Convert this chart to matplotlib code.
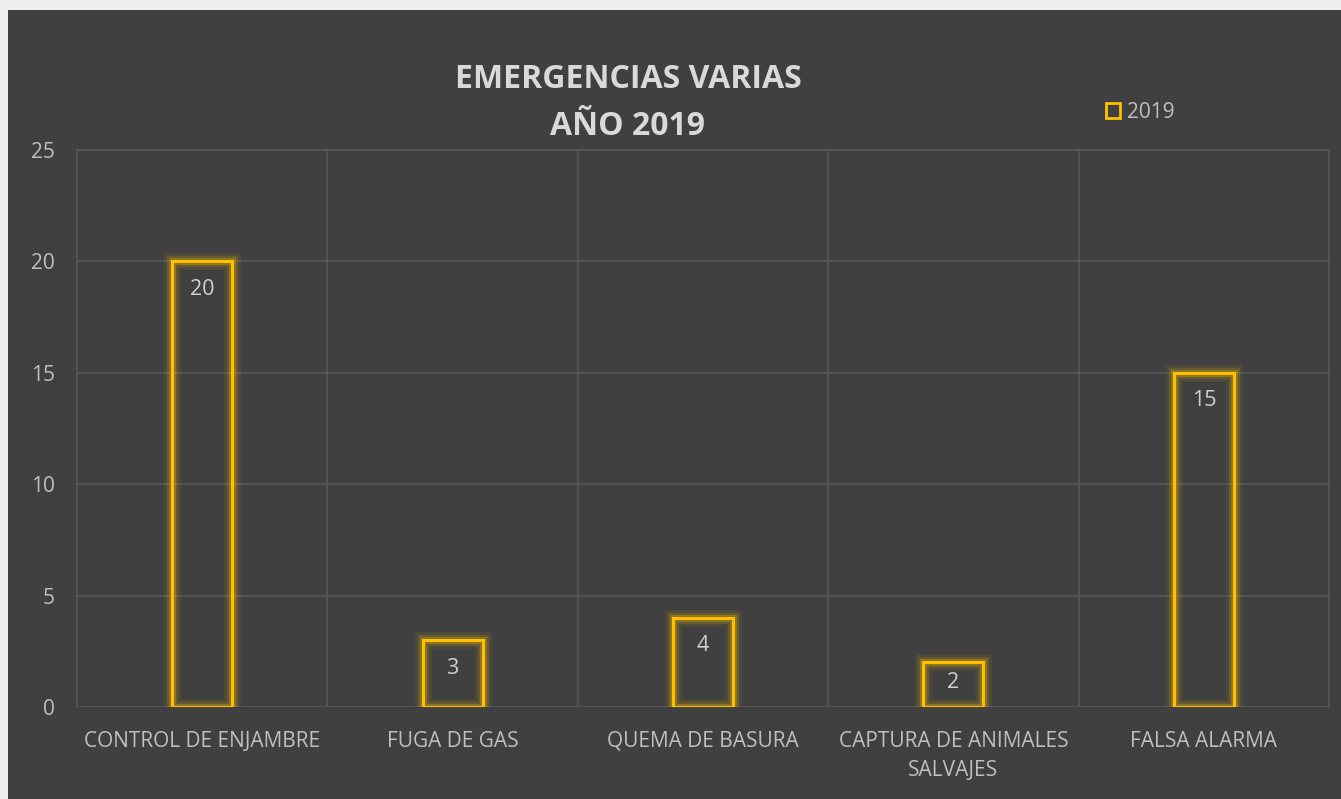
import matplotlib
matplotlib.use("Agg")
import matplotlib.pyplot as plt
import matplotlib.patheffects as pe
from matplotlib.patches import Rectangle

categories = ["CONTROL DE ENJAMBRE", "FUGA DE GAS", "QUEMA DE BASURA",
              "CAPTURA DE ANIMALES\nSALVAJES", "FALSA ALARMA"]
values = [20, 3, 4, 2, 15]
series_name = "2019"
title = "EMERGENCIAS VARIAS\nAÑO 2019"
yticks = [0, 5, 10, 15, 20, 25]

BG = "#404040"
GRID = "#585858"
GOLD = "#FFC000"
TXT = "#BFBFBF"
FONT = ["Open Sans", "DejaVu Sans"]
plt.rcParams["font.family"] = FONT

W, H = 1341, 799
fig = plt.figure(figsize=(W / 100, H / 100), dpi=100, facecolor="#EDEDED")
fig.patches.append(Rectangle((8 / W, 0), 1 - 8 / W, 1 - 10 / H, transform=fig.transFigure,
                             facecolor=BG, edgecolor="none", zorder=-10))

ax = fig.add_axes([77 / W, (H - 707) / H, (1329 - 77) / W, (707 - 150) / H])
ax.set_zorder(1)
ax.set_facecolor(BG)
x = list(range(len(categories)))
ax.set_xlim(-0.5, len(categories) - 0.5)
ax.set_ylim(0, 25)

glow = [pe.Stroke(linewidth=12, foreground=GOLD, alpha=0.08),
        pe.Stroke(linewidth=8, foreground=GOLD, alpha=0.14),
        pe.Stroke(linewidth=5, foreground=GOLD, alpha=0.25),
        pe.Normal()]
bars = ax.bar(x, values, width=0.24, facecolor="none", edgecolor=GOLD,
              linewidth=2.2, zorder=3, label=series_name)
for b in bars:
    b.set_path_effects(glow)

px_per_unit = (707 - 150) / 25
for xi, v in zip(x, values):
    off = min(28, v * px_per_unit / 2 - 2)
    ax.annotate(str(v), (xi, v), xytext=(0, -off * 0.72), textcoords="offset points",
                ha="center", va="center", color="#D0D0D0", fontsize=15.5, zorder=4)

ax.set_yticks(yticks)
ax.set_yticklabels([str(t) for t in yticks])
ax.set_xticks(x)
ax.set_xticklabels(categories, linespacing=1.55)
ax.tick_params(axis="both", length=0, colors=TXT, labelsize=15)
ax.tick_params(axis="y", pad=16)
ax.tick_params(axis="x", pad=17)

ax.grid(axis="y", color=GRID, linewidth=1.2, zorder=1)
for xb in [i + 0.5 for i in x[:-1]]:
    ax.axvline(xb, color=GRID, linewidth=1.2, zorder=1)
for s in ["top", "left", "right"]:
    ax.spines[s].set_color(GRID)
    ax.spines[s].set_linewidth(1.2)
ax.spines["bottom"].set_visible(False)

fig.text(628 / W, 1 - 103 / H, title, ha="center", va="center", fontsize=23,
         fontweight="bold", color="#D9D9D9", linespacing=1.57)

leg = fig.legend(handles=[Rectangle((0, 0), 1, 1, facecolor="none", edgecolor=GOLD, linewidth=2)],
                 labels=[series_name], loc="center left",
                 bbox_to_anchor=(1087 / W, 1 - 112 / H), frameon=False,
                 handlelength=0.7, handleheight=0.7, handletextpad=0.3, fontsize=15)
for t in leg.get_texts():
    t.set_color(TXT)

fig.savefig("out.png", dpi=100, facecolor=fig.get_facecolor())
